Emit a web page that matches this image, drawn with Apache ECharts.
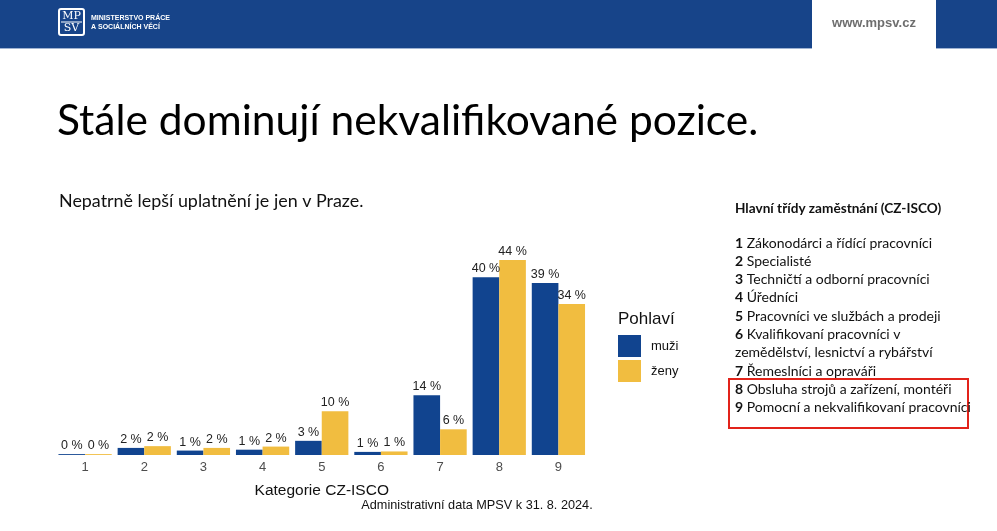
<!DOCTYPE html>
<html>
<head>
<meta charset="utf-8">
<script src="https://cdn.jsdelivr.net/npm/echarts@6/dist/echarts.min.js"></script>
<style>
html,body{margin:0;padding:0;background:#fff;}
#c{width:997px;height:531px;}
</style>
</head>
<body>
<div id="c"></div>
<script>
var categories = ['1','2','3','4','5','6','7','8','9'];
var muzi = [0.2, 1.6, 1.0, 1.2, 3.2, 0.7, 13.5, 40.1, 38.8];
var zeny = [0.2, 2.0, 1.6, 1.9, 9.9, 0.8, 5.8, 44.0, 34.1];
var seriesNames = ['muži', 'ženy'];
var titleText = 'Stále dominují nekvalifikované pozice.';
var subtitleText = 'Nepatrně lepší uplatnění je jen v Praze.';
var axisName = 'Kategorie CZ-ISCO';
var legendTitle = 'Pohlaví';
var footerText = 'Administrativní data MPSV k 31. 8. 2024.';
var headerOrg = ['MINISTERSTVO PRÁCE', 'A SOCIÁLNÍCH VĚCÍ'];
var headerUrl = 'www.mpsv.cz';
var listHeading = 'Hlavní třídy zaměstnání (CZ-ISCO)';
var listLines = [
  ['1', 'Zákonodárci a řídící pracovníci'],
  ['2', 'Specialisté'],
  ['3', 'Techničtí a odborní pracovníci'],
  ['4', 'Úředníci'],
  ['5', 'Pracovníci ve službách a prodeji'],
  ['6', 'Kvalifikovaní pracovníci v'],
  ['', 'zemědělství, lesnictví a rybářství'],
  ['7', 'Řemeslníci a opraváři'],
  ['8', 'Obsluha strojů a zařízení, montéři'],
  ['9', 'Pomocní a nekvalifikovaní pracovníci']
];

var BLUE = '#11448f';
var YELLOW = '#f1bd40';
var HEADER = '#174489';
var SANS = '"Liberation Sans", Arial, sans-serif';
var CAL = 'Lato, "Open Sans", sans-serif';

var chart = echarts.init(document.getElementById('c'), null, {renderer: 'canvas'});

var graphics = [
  {type: 'rect', shape: {x: 0, y: 0, width: 997, height: 48}, style: {fill: HEADER}, silent: true},
  {type: 'rect', shape: {x: 0, y: 48, width: 997, height: 1}, style: {fill: '#9fb3d3'}, silent: true},
  {type: 'rect', shape: {x: 812, y: 0, width: 124, height: 49}, style: {fill: '#ffffff'}, silent: true},
  {type: 'rect', shape: {x: 59, y: 9, width: 25, height: 26, r: 2}, style: {fill: 'none', stroke: '#ffffff', lineWidth: 2}, silent: true},
  {type: 'line', shape: {x1: 61, y1: 22, x2: 82, y2: 22}, style: {stroke: '#ffffff', lineWidth: 1}, silent: true},
  {type: 'text', x: 71.5, y: 16, style: {text: 'MP', fill: '#ffffff', font: '11px "DejaVu Serif", serif', align: 'center', verticalAlign: 'middle'}, silent: true},
  {type: 'text', x: 71.5, y: 28.5, style: {text: 'SV', fill: '#ffffff', font: '11px "DejaVu Serif", serif', align: 'center', verticalAlign: 'middle'}, silent: true},
  {type: 'text', x: 91, y: 18, style: {text: headerOrg[0], fill: '#ffffff', font: 'bold 7px ' + SANS, verticalAlign: 'middle'}, silent: true},
  {type: 'text', x: 91, y: 27, style: {text: headerOrg[1], fill: '#ffffff', font: 'bold 7px ' + SANS, verticalAlign: 'middle'}, silent: true},
  {type: 'text', x: 874, y: 23, style: {text: headerUrl, fill: '#6e6e6e', font: 'bold 13px ' + SANS, align: 'center', verticalAlign: 'middle'}, silent: true},
  {type: 'text', x: 57, y: 121, style: {text: titleText, fill: '#000000', font: '42.5px ' + CAL, verticalAlign: 'middle'}, silent: true},
  {type: 'text', x: 59, y: 201, style: {text: subtitleText, fill: '#111111', font: '17.9px ' + CAL, verticalAlign: 'middle'}, silent: true},
  {type: 'text', x: 618, y: 319, style: {text: legendTitle, fill: '#111111', font: '17px ' + SANS, verticalAlign: 'middle'}, silent: true},
  {type: 'text', x: 477, y: 505, style: {text: footerText, fill: '#111111', font: '12.7px ' + SANS, align: 'center', verticalAlign: 'middle'}, silent: true},
  {type: 'text', x: 735, y: 209, style: {text: listHeading, fill: '#111111', font: 'bold 13.6px ' + CAL, verticalAlign: 'middle'}, silent: true},
  {type: 'rect', shape: {x: 729, y: 379, width: 239, height: 49}, style: {fill: 'none', stroke: '#e2231a', lineWidth: 2}, silent: true}
];
var lineY0 = 243, lineStep = 18.3;
listLines.forEach(function (ln, i) {
  graphics.push({
    type: 'text', x: 735, y: lineY0 + i * lineStep, silent: true,
    style: {
      text: (ln[0] ? '{b|' + ln[0] + '} ' : '') + ln[1],
      fill: '#111111', font: '14px ' + CAL, verticalAlign: 'middle',
      rich: {b: {fontWeight: 'bold', fontFamily: CAL, fontSize: 14, fill: '#111111'}}
    }
  });
});

var labelCfg = {
  show: true, position: 'top', distance: 2, color: '#222222',
  fontFamily: SANS, fontSize: 12.5,
  formatter: function (p) { return Math.round(p.value) + ' %'; }
};

chart.setOption({
  animation: false,
  backgroundColor: '#ffffff',
  grid: {left: 55.5, right: 409, top: 233.5, bottom: 76, containLabel: false},
  xAxis: {
    type: 'category', data: categories,
    axisLine: {show: false}, axisTick: {show: false},
    axisLabel: {color: '#4d4d4d', fontSize: 13, fontFamily: SANS, margin: 6},
    name: axisName, nameLocation: 'middle', nameGap: 28,
    nameTextStyle: {color: '#111111', fontSize: 15.5, fontFamily: SANS}
  },
  yAxis: {type: 'value', min: 0, max: 50, show: false, splitLine: {show: false}},
  legend: {
    data: seriesNames, orient: 'vertical', left: 618, top: 335, padding: 0,
    itemWidth: 23, itemHeight: 22, itemGap: 3, icon: 'rect',
    textStyle: {color: '#111111', fontSize: 13, fontFamily: SANS, padding: [0, 0, 0, 5]}
  },
  series: [
    {name: seriesNames[0], type: 'bar', data: muzi, itemStyle: {color: BLUE},
     barGap: '0%', barCategoryGap: '10%', label: labelCfg},
    {name: seriesNames[1], type: 'bar', data: zeny, itemStyle: {color: YELLOW},
     barGap: '0%', barCategoryGap: '10%', label: labelCfg}
  ],
  graphic: graphics
});
</script>
</body>
</html>
